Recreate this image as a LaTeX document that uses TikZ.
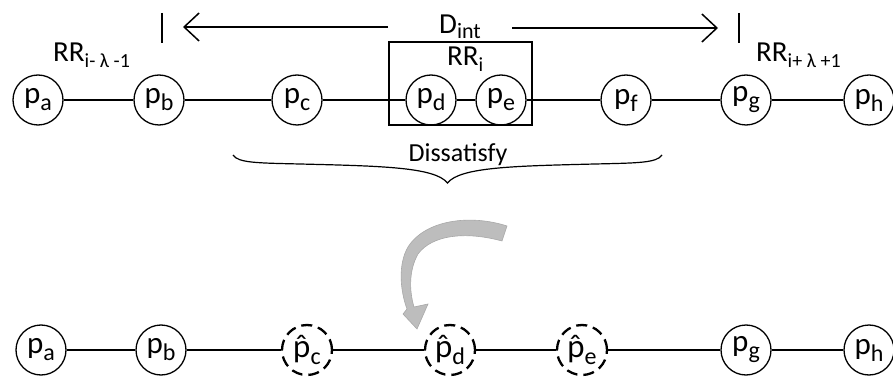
\documentclass[tikz,border=0pt]{standalone}
\usepackage{fontspec}
\setmainfont{Carlito}
\newfontfamily\accfont{Lato}
\usetikzlibrary{arrows.meta}
% lowered subscripts in the sans font
\newcommand{\psub}[1]{\raisebox{-7pt}{\fontsize{24}{24}\selectfont #1}}
\newcommand{\rrsub}[1]{\raisebox{-6pt}{\fontsize{20}{20}\selectfont #1}}
% p with a combining circumflex
\newcommand{\hatp}{{\accfont p̂}}
\tikzset{
  peer/.style={circle, draw, line width=1.3pt, minimum size=50pt, inner sep=0pt,
               font=\fontsize{31}{31}\selectfont},
  ghost/.style={peer, line width=2.3pt, dash pattern=on 11pt off 6pt},
  link/.style={line width=1.3pt},
  lbl/.style={anchor=base west, inner sep=0pt, font=\fontsize{29}{29}\selectfont},
  bar/.style={line width=1.6pt},
  span/.style={line width=1.5pt, -{Straight Barb[length=15pt,width=28pt,line width=1.5pt]}},
}
\begin{document}
\begin{tikzpicture}[x=1pt, y=-1pt]
\useasboundingbox (0,0) rectangle (893,379);

% upper chain
\node[peer] (a1) at (38,100)  {p\psub{a}};
\node[peer] (b1) at (159,100) {p\psub{b}};
\node[peer] (c1) at (297,100) {p\psub{c}};
\node[peer] (d1) at (431,100) {p\psub{d}};
\node[peer] (e1) at (501,100) {p\psub{e}};
\node[peer] (f1) at (626,100) {p\psub{f}};
\node[peer] (g1) at (746,100) {p\psub{g}};
\node[peer] (h1) at (869,100) {p\psub{h}};
\foreach \u/\v in {a1/b1,b1/c1,c1/d1,d1/e1,e1/f1,f1/g1,g1/h1}
  \draw[link] (\u) -- (\v);

% the region RR_i
\node[draw, line width=1.2pt, minimum width=143pt, minimum height=83pt, inner sep=0pt]
  (box) at (460.5,83.5) {};
\node[lbl] (rri) at (447,66) {RR\rrsub{i}};
\node[lbl] (rrl) at (53,62) {RR\rrsub{i- λ -1}};
\node[lbl] (rrr) at (756,62) {RR\rrsub{i+ λ +1}};

% interval D_int
\coordinate (lt) at (162,13);
\coordinate (lb) at (162,43);
\coordinate (rt) at (739,13);
\coordinate (rb) at (739,43);
\draw[bar] (lt) -- (lb);
\draw[bar] (rt) -- (rb);
\node[lbl, anchor=base] (dint) at (460,34)
  {D\raisebox{-5pt}{\fontsize{22}{22}\selectfont int}};
\coordinate (ls) at (388,27);
\coordinate (le) at (183,27);
\coordinate (rs) at (512,28);
\coordinate (re) at (718,28);
\draw[span] (ls) -- (le);
\draw[span] (rs) -- (re);

% brace with its label
\coordinate (bl) at (233,155);
\coordinate (br) at (662,155);
\coordinate (bt) at (447.5,183);
\draw[line width=1.2pt] (bl) .. controls (238,163) and (258,163) .. (300,164)
  .. controls (380,166) and (435,167) .. (bt)
  .. controls (460,167) and (515,166) .. (595,164)
  .. controls (637,163) and (657,163) .. (br);
\node[anchor=base, inner sep=0pt, font=\fontsize{26}{26}\selectfont] (dis) at (458,162) {Dissatisfy};

% grey curved arrow
\fill[black!26, draw=black!34, line width=0.6pt]
  (507,226) .. controls (470,214) and (425,220) .. (408,247)
  .. controls (398,264) and (400,290) .. (407,309)
  -- (403,314) -- (417,329) -- (428,304) -- (414,307)
  .. controls (409,290) and (409,270) .. (418,254)
  .. controls (432,235) and (465,231) .. (502,241) -- cycle;

% lower chain
\node[peer]  (a2) at (41,350)  {p\psub{a}};
\node[peer]  (b2) at (161,350) {p\psub{b}};
\node[ghost] (c2) at (307,350) {\hatp\psub{c}};
\node[ghost] (d2) at (450,350) {\hatp\psub{d}};
\node[ghost] (e2) at (582,350) {\hatp\psub{e}};
\node[peer]  (g2) at (746,350) {p\psub{g}};
\node[peer]  (h2) at (869,350) {p\psub{h}};
\foreach \u/\v in {a2/b2,b2/c2,c2/d2,d2/e2,e2/g2,g2/h2}
  \draw[link] (\u) -- (\v);
\end{tikzpicture}
\end{document}
